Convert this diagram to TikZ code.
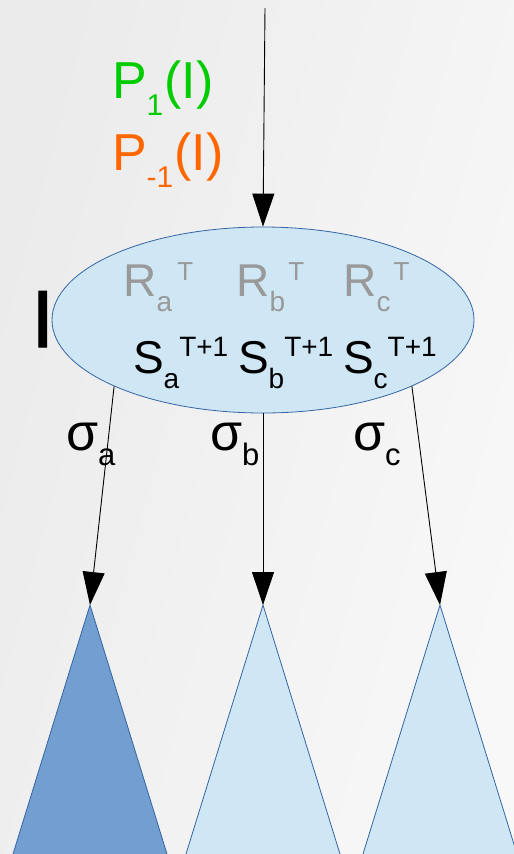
\documentclass[tikz,border=0pt]{standalone}
\usepackage{fontspec}
\setmainfont{Liberation Sans}
\newfontfamily\heavysans[FakeBold=1.5]{Liberation Sans}
\usetikzlibrary{shapes.geometric,arrows.meta}

\definecolor{bgleft}{RGB}{235,235,235}
\definecolor{bgright}{RGB}{248,248,248}
\definecolor{paleblue}{RGB}{207,231,245}
\definecolor{midblue}{RGB}{114,159,207}
\definecolor{edgeblue}{RGB}{52,101,164}
\definecolor{pgreen}{RGB}{0,204,0}
\definecolor{porange}{RGB}{255,102,0}
\definecolor{rgray}{RGB}{153,153,153}

% a symbol with a lowered index and an optional raised index
\newcommand\fs[2]{{\fontsize{#1}{#1}\selectfont #2}}
\newcommand\symidx[6]{\fs{#1}{#2}\raisebox{-#4pt}{\fs{#3}{#5}}#6}

\tikzset{
  lbl/.style={anchor=base west, inner sep=0pt, outer sep=0pt},
  link/.style={line width=0.9pt, -{Triangle[length=33pt,width=22pt]}},
  tree/.style={draw=edgeblue, line width=0.8pt},
}

\begin{document}
\begin{tikzpicture}[x=1pt,y=-1pt]
  % backdrop, darker towards the lower left
  \shade[shading=axis, left color=bgleft, right color=bgright, shading angle=75]
    (0,0) rectangle (514,854);
  \useasboundingbox (0,0) rectangle (514,854);

  % state ellipse
  \node[ellipse, draw=edgeblue, line width=0.8pt, fill=paleblue,
        minimum width=422pt, minimum height=186pt, inner sep=0pt] (E) at (263,320) {};

  % subtrees
  \coordinate (ta) at (90,605);
  \coordinate (tb) at (263,605);
  \coordinate (tc) at (440,605);
  \fill[midblue] (ta) -- (13,854) -- (167,854) -- cycle;
  \draw[tree] (13,854) -- (ta) -- (167,854);
  \fill[paleblue] (tb) -- (186,854) -- (340,854) -- cycle;
  \draw[tree] (186,854) -- (tb) -- (340,854);
  \fill[paleblue] (tc) -- (363,854) -- (517,854) -- cycle;
  \draw[tree] (363,854) -- (tc) -- (517,854);

  % transitions
  \coordinate (in) at (265,8);
  \draw[link] (in) -- (E.north);
  \draw[link] (E.204) -- (ta);
  \draw[link] (E.south) -- (tb);
  \draw[link] (E.336) -- (tc);

  % probabilities
  \node[lbl, text=pgreen] (p1) at (112,98)
    {\symidx{52}{P}{30}{17}{1}{\hspace{1pt}\fs{52}{(I)}}};
  \node[lbl, text=porange] (pm1) at (112,170)
    {\symidx{52}{P}{30}{17}{-1}{\hspace{1pt}\fs{52}{(I)}}};

  % information set
  \node[lbl] (iset) at (31.5,347) {\heavysans\fs{81}{I}};

  % rewards
  \node[lbl, text=rgray] (ra) at (123.5,296)
    {\symidx{46}{R}{28}{15}{a}{\hspace{5pt}\raisebox{16pt}{\fs{26}{T}}}};
  \node[lbl, text=rgray] (rb) at (236.5,296)
    {\symidx{46}{R}{28}{15}{b}{\hspace{3pt}\raisebox{16pt}{\fs{26}{T}}}};
  \node[lbl, text=rgray] (rc) at (343.5,296)
    {\symidx{46}{R}{28}{15}{c}{\hspace{3pt}\raisebox{16pt}{\fs{26}{T}}}};

  % strategies
  \node[lbl] (sa) at (133,373)
    {\symidx{46}{S}{28}{15}{a}{\raisebox{17pt}{\fs{28}{T+1}}}};
  \node[lbl] (sb) at (238,373)
    {\symidx{46}{S}{28}{15}{b}{\raisebox{17pt}{\fs{28}{T+1}}}};
  \node[lbl] (sc) at (343,373)
    {\symidx{46}{S}{28}{15}{c}{\raisebox{17pt}{\fs{28}{T+1}}}};

  % action labels
  \node[lbl] (siga) at (66,450) {\symidx{52}{σ}{31}{15}{a}{}};
  \node[lbl] (sigb) at (210,450) {\symidx{52}{σ}{31}{15}{b}{}};
  \node[lbl] (sigc) at (353,450) {\symidx{52}{σ}{31}{15}{c}{}};
\end{tikzpicture}
\end{document}
